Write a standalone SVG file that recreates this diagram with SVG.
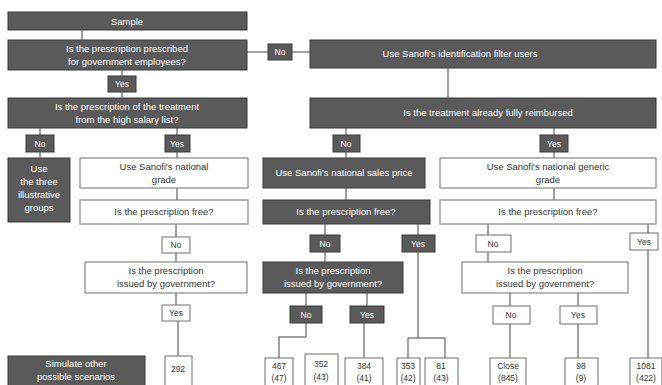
<svg xmlns="http://www.w3.org/2000/svg" width="662" height="385" viewBox="0 0 662 385">
<style>
text{font-family:"Liberation Sans",Arial,sans-serif;font-size:9.5px;text-anchor:middle}
.dk{fill:#5a5a5a;stroke:#3a3a3a;stroke-width:1}
.lt{fill:#ffffff;stroke:#6e6e6e;stroke-width:1}
.tw{fill:#ffffff}
.tk{fill:#333333}
.sm{font-size:8.5px}
.cn line,.cn polyline{stroke:#444;stroke-width:1;fill:none}
</style>
<rect width="662" height="385" fill="#ffffff"/>
<g class="cn" id="connectors">
<line x1="82" y1="30" x2="82" y2="40"/>
<line x1="247" y1="52" x2="268" y2="52"/>
<line x1="292" y1="52" x2="310" y2="52"/>
<line x1="122" y1="70" x2="122" y2="76"/>
<line x1="122" y1="92" x2="122" y2="98"/>
<line x1="448" y1="68" x2="448" y2="98"/>
<line x1="40" y1="128" x2="40" y2="135"/>
<line x1="40" y1="152" x2="40" y2="158"/>
<line x1="177" y1="128" x2="177" y2="135"/>
<line x1="177" y1="152" x2="177" y2="158"/>
<line x1="177" y1="188" x2="177" y2="200"/>
<line x1="176" y1="224" x2="176" y2="237"/>
<line x1="176" y1="253" x2="176" y2="262"/>
<line x1="176" y1="293" x2="176" y2="305"/>
<line x1="178" y1="321" x2="178" y2="356"/>
<line x1="346" y1="128" x2="346" y2="135"/>
<line x1="346" y1="152" x2="346" y2="158"/>
<line x1="346" y1="188" x2="346" y2="200"/>
<line x1="325" y1="224" x2="325" y2="235"/>
<line x1="325" y1="252" x2="325" y2="262"/>
<line x1="418" y1="224" x2="418" y2="235"/>
<line x1="306" y1="293" x2="306" y2="306"/>
<line x1="367" y1="293" x2="367" y2="306"/>
<polyline points="306,323 306,337 279,337 279,358"/>
<line x1="364" y1="323" x2="364" y2="358"/>
<polyline points="418,252 418,338"/>
<polyline points="408,358 408,338 445,338 445,358"/>
<line x1="554" y1="128" x2="554" y2="135"/>
<line x1="554" y1="152" x2="554" y2="158"/>
<line x1="554" y1="188" x2="554" y2="200"/>
<line x1="488" y1="224" x2="488" y2="235"/>
<line x1="488" y1="252" x2="488" y2="262"/>
<line x1="648" y1="224" x2="648" y2="233"/>
<line x1="648" y1="250" x2="648" y2="358"/>
<line x1="510" y1="293" x2="510" y2="306"/>
<line x1="510" y1="324" x2="510" y2="358"/>
<line x1="578" y1="293" x2="578" y2="306"/>
<line x1="578" y1="324" x2="578" y2="358"/>
</g>
<g id="n-sample"><rect class="dk" x="8" y="12" width="239" height="18"/><text class="tw" x="127" y="24.5">Sample</text></g>
<g id="n-gov"><rect class="dk" x="8" y="40" width="239" height="30"/><text class="tw" x="127" y="52">Is the prescription prescribed</text><text class="tw" x="127" y="65">for government employees?</text></g>
<g id="n-no1"><rect class="dk" x="268" y="44" width="24" height="16"/><text class="tw sm" x="280" y="55">No</text></g>
<g id="n-filter"><rect class="dk" x="310" y="40" width="346" height="28"/><text class="tw" x="460" y="57">Use Sanofi's identification filter users</text></g>
<g id="n-yes1"><rect class="dk" x="108" y="76" width="28" height="16"/><text class="tw sm" x="122" y="87">Yes</text></g>
<g id="n-list"><rect class="dk" x="8" y="98" width="239" height="30"/><text class="tw" x="127" y="110">Is the prescription of the treatment</text><text class="tw" x="127" y="123">from the high salary list?</text></g>
<g id="n-reimb"><rect class="dk" x="310" y="98" width="346" height="30"/><text class="tw" x="488" y="116">Is the treatment already fully reimbursed</text></g>
<g id="n-no2"><rect class="dk" x="26" y="135" width="28" height="17"/><text class="tw sm" x="40" y="147">No</text></g>
<g id="n-yes2"><rect class="dk" x="165" y="135" width="25" height="17"/><text class="tw sm" x="177" y="147">Yes</text></g>
<g id="n-groups"><rect class="dk" x="8" y="158" width="62" height="64"/><text class="tw" x="39" y="172">Use</text><text class="tw" x="39" y="185">the three</text><text class="tw" x="39" y="198">illustrative</text><text class="tw" x="39" y="211">groups</text></g>
<g id="n-grade-l"><rect class="lt" x="80" y="158" width="168" height="30"/><text class="tk" x="164" y="170">Use Sanofi's national</text><text class="tk" x="164" y="183">grade</text></g>
<g id="n-free-l"><rect class="lt" x="80" y="200" width="168" height="24"/><text class="tk" x="164" y="215">Is the prescription free?</text></g>
<g id="n-no3"><rect class="lt" x="162" y="237" width="28" height="16"/><text class="tk sm" x="176" y="248">No</text></g>
<g id="n-issued-l"><rect class="lt" x="85" y="262" width="162" height="31"/><text class="tk" x="166" y="274">Is the prescription</text><text class="tk" x="166" y="287">issued by government?</text></g>
<g id="n-yes3"><rect class="lt" x="162" y="305" width="28" height="16"/><text class="tk sm" x="176" y="316">Yes</text></g>
<g id="n-sim"><rect class="dk" x="8" y="356" width="137" height="40"/><text class="tw" x="76" y="367">Simulate other</text><text class="tw" x="76" y="380">possible scenarios</text></g>
<g id="n-b1"><rect class="lt" x="165" y="356" width="27" height="40"/><text class="tk sm" x="178" y="372">292</text></g>
<g id="n-no4"><rect class="dk" x="333" y="135" width="27" height="17"/><text class="tw sm" x="346" y="147">No</text></g>
<g id="n-sales"><rect class="dk" x="263" y="158" width="162" height="30"/><text class="tw" x="344" y="176">Use Sanofi's national sales price</text></g>
<g id="n-free-m"><rect class="dk" x="263" y="200" width="167" height="24"/><text class="tw" x="346" y="215">Is the prescription free?</text></g>
<g id="n-no5"><rect class="dk" x="310" y="235" width="30" height="17"/><text class="tw sm" x="325" y="247">No</text></g>
<g id="n-yes5"><rect class="dk" x="402" y="235" width="33" height="17"/><text class="tw sm" x="418" y="247">Yes</text></g>
<g id="n-issued-m"><rect class="dk" x="263" y="262" width="140" height="31"/><text class="tw" x="333" y="274">Is the prescription</text><text class="tw" x="333" y="287">issued by government?</text></g>
<g id="n-no6"><rect class="dk" x="290" y="306" width="32" height="17"/><text class="tw sm" x="306" y="318">No</text></g>
<g id="n-yes6"><rect class="dk" x="350" y="306" width="34" height="17"/><text class="tw sm" x="367" y="318">Yes</text></g>
<g id="n-b2"><rect class="lt" x="265" y="358" width="28" height="40"/><text class="tk sm" x="279" y="369">467</text><text class="tk sm" x="279" y="381">(47)</text></g>
<g id="n-b3"><rect class="lt" x="305" y="354" width="33" height="40"/><text class="tk sm" x="321" y="367">352</text><text class="tk sm" x="321" y="380">(43)</text></g>
<g id="n-b4"><rect class="lt" x="345" y="358" width="38" height="40"/><text class="tk sm" x="364" y="369">384</text><text class="tk sm" x="364" y="381">(41)</text></g>
<g id="n-b5"><rect class="lt" x="397" y="358" width="23" height="40"/><text class="tk sm" x="408" y="369">353</text><text class="tk sm" x="408" y="381">(42)</text></g>
<g id="n-b6"><rect class="lt" x="425" y="358" width="33" height="40"/><text class="tk sm" x="441" y="369">81</text><text class="tk sm" x="441" y="381">(43)</text></g>
<g id="n-yes7"><rect class="dk" x="540" y="135" width="28" height="17"/><text class="tw sm" x="554" y="147">Yes</text></g>
<g id="n-grade-r"><rect class="lt" x="440" y="158" width="216" height="30"/><text class="tk" x="548" y="170">Use Sanofi's national generic</text><text class="tk" x="548" y="183">grade</text></g>
<g id="n-free-r"><rect class="lt" x="440" y="200" width="216" height="24"/><text class="tk" x="548" y="215">Is the prescription free?</text></g>
<g id="n-no8"><rect class="lt" x="476" y="235" width="35" height="17"/><text class="tk sm" x="493" y="247">No</text></g>
<g id="n-yes8"><rect class="lt" x="630" y="233" width="28" height="17"/><text class="tk sm" x="644" y="245">Yes</text></g>
<g id="n-issued-r"><rect class="lt" x="462" y="262" width="166" height="31"/><text class="tk" x="545" y="274">Is the prescription</text><text class="tk" x="545" y="287">issued by government?</text></g>
<g id="n-no9"><rect class="lt" x="493" y="306" width="37" height="18"/><text class="tk sm" x="511" y="318">No</text></g>
<g id="n-yes9"><rect class="lt" x="560" y="306" width="37" height="18"/><text class="tk sm" x="578" y="318">Yes</text></g>
<g id="n-b7"><rect class="lt" x="490" y="358" width="36" height="40"/><text class="tk sm" x="508" y="369">Close</text><text class="tk sm" x="508" y="381">(845)</text></g>
<g id="n-b8"><rect class="lt" x="565" y="358" width="33" height="40"/><text class="tk sm" x="581" y="369">98</text><text class="tk sm" x="581" y="381">(9)</text></g>
<g id="n-b9"><rect class="lt" x="630" y="358" width="32" height="40"/><text class="tk sm" x="646" y="369">1081</text><text class="tk sm" x="646" y="381">(422)</text></g>
</svg>
